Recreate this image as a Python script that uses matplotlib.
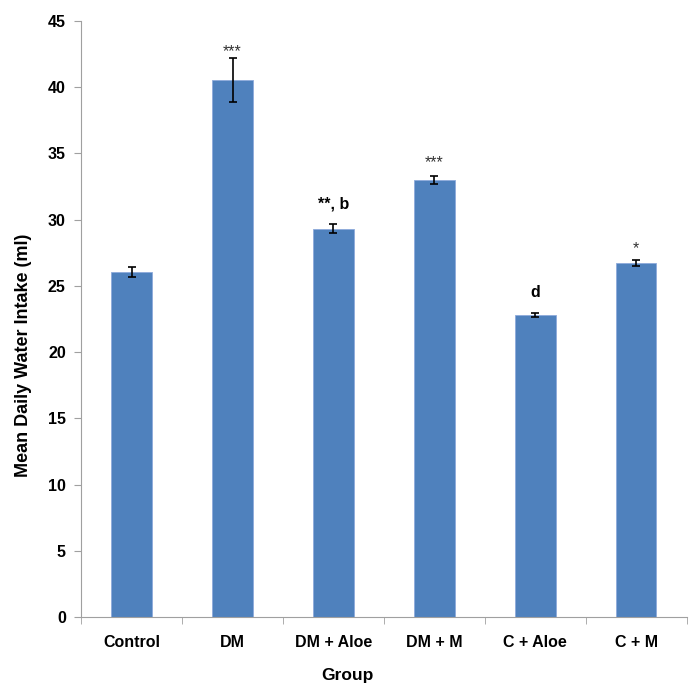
import matplotlib.pyplot as plt

groups = ["Control", "DM", "DM + Aloe", "DM + M", "C + Aloe", "C + M"]
intake = [26.05, 40.53, 29.33, 32.98, 22.8, 26.72]
errors = [0.37, 1.68, 0.33, 0.32, 0.17, 0.24]
marks = ["", "***", "**, b", "***", "d", "*"]

plt.rcParams['font.family'] = ['Liberation Sans', 'DejaVu Sans']

fig = plt.figure(figsize=(6.93, 6.88), dpi=100)
ax = fig.add_axes([0.117, 0.103, 0.874, 0.8665])

x = list(range(len(groups)))
ax.bar(x, intake, width=0.4, color="#4F81BD", edgecolor="#8EAADB", linewidth=0.6,
       yerr=errors, capsize=2.7, error_kw=dict(ecolor="black", elinewidth=1.2, capthick=1.2))

# significance marks above the error bars (offsets in points, tuned by eye)
mark_off = [0, -1, 9, 4.5, 9, 2.5]
for i, m in enumerate(marks):
    if not m:
        continue
    top = intake[i] + errors[i]
    if "*" in m and "b" not in m:
        ax.annotate(m, (i, top), xytext=(0, mark_off[i]), textcoords="offset points",
                    ha="center", va="bottom", fontsize=11.5, color="#333333")
    else:
        ax.annotate(m, (i, top), xytext=(0, mark_off[i]), textcoords="offset points",
                    ha="center", va="bottom", fontsize=11.5, fontweight="bold")

ax.set_xlim(-0.5, 5.5)
ax.set_ylim(0, 45)
ax.set_yticks(range(0, 46, 5))
ax.set_xticks(x)
ax.set_xticklabels(groups)
ax.set_xticks([i - 0.5 for i in range(len(groups) + 1)], minor=True)
ax.tick_params(axis="x", which="major", length=0, pad=13)
ax.tick_params(axis="x", which="minor", length=5, color="#A0A0A0")
ax.tick_params(axis="y", length=5, color="#A0A0A0", pad=6)
for lbl in ax.get_xticklabels() + ax.get_yticklabels():
    lbl.set_fontweight("bold")
    lbl.set_fontsize(11.5)

for s in ["top", "right"]:
    ax.spines[s].set_visible(False)
for s in ["left", "bottom"]:
    ax.spines[s].set_color("#A0A0A0")

ax.set_xlabel("Group", fontsize=12.5, fontweight="bold")
ax.set_ylabel("Mean Daily Water Intake (ml)", fontsize=13, fontweight="bold")
ax.yaxis.set_label_coords(-0.081, 0.44)
ax.xaxis.set_label_coords(0.44, -0.085)

fig.savefig("out.png", dpi=100)
